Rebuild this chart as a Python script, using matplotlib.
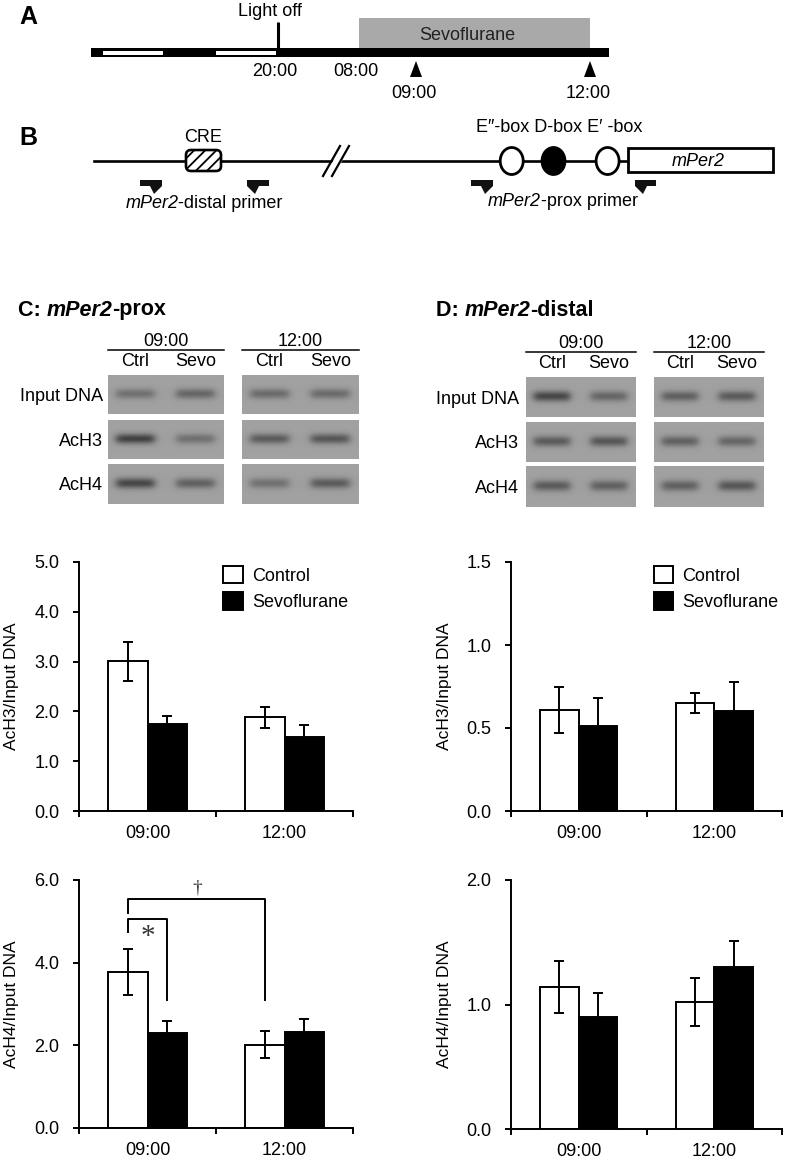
import matplotlib
matplotlib.use('Agg')
import matplotlib.pyplot as plt
from matplotlib.patches import Rectangle, Polygon, Ellipse, FancyBboxPatch
import numpy as np

plt.rcParams['font.family'] = ['Liberation Sans', 'DejaVu Sans']
plt.rcParams['font.size'] = 13
plt.rcParams['hatch.linewidth'] = 1.3

# ---- data ----
times = ['09:00', '12:00']
groups = ['Control', 'Sevoflurane']

# C: mPer2-prox
c_ach3_ctrl = [3.01, 1.88]
c_ach3_ctrl_err = [0.39, 0.21]
c_ach3_sevo = [1.75, 1.48]
c_ach3_sevo_err = [0.15, 0.25]
c_ach4_ctrl = [3.77, 2.02]
c_ach4_ctrl_err = [0.55, 0.33]
c_ach4_sevo = [2.31, 2.32]
c_ach4_sevo_err = [0.28, 0.32]

# D: mPer2-distal
d_ach3_ctrl = [0.61, 0.65]
d_ach3_ctrl_err = [0.14, 0.06]
d_ach3_sevo = [0.51, 0.60]
d_ach3_sevo_err = [0.17, 0.18]
d_ach4_ctrl = [1.14, 1.02]
d_ach4_ctrl_err = [0.21, 0.19]
d_ach4_sevo = [0.90, 1.30]
d_ach4_sevo_err = [0.19, 0.21]

# gel band darkness (0..1), rows Input DNA / AcH3 / AcH4, lanes Ctrl, Sevo
gel_rows = ['Input DNA', 'AcH3', 'AcH4']
lanes = ['Ctrl', 'Sevo']
c_gel_0900 = [[0.45, 0.55], [0.9, 0.45], [0.85, 0.6]]
c_gel_1200 = [[0.5, 0.5], [0.65, 0.7], [0.45, 0.65]]
d_gel_0900 = [[0.85, 0.55], [0.65, 0.7], [0.65, 0.6]]
d_gel_1200 = [[0.6, 0.65], [0.6, 0.55], [0.6, 0.7]]

W, H = 789, 1161
fig = plt.figure(figsize=(W / 100, H / 100), dpi=100)
ax0 = fig.add_axes([0, 0, 1, 1])
ax0.set_xlim(0, W)
ax0.set_ylim(H, 0)
ax0.axis('off')
R = fig.canvas.get_renderer()


def rich(x, y, pieces, ha='left', size=13, weight='normal'):
    # text made of pieces with different styles, laid side by side
    ts = []
    cx = x
    for s, style in pieces:
        t = ax0.text(cx, y, s, ha='left', va='center', fontsize=size,
                     fontweight=weight, fontstyle=style, zorder=5)
        cx += t.get_window_extent(R).width
        ts.append(t)
    if ha == 'center':
        shift = (cx - x) / 2
        for t in ts:
            t.set_x(t.get_position()[0] - shift)


# ---------------- A ----------------
ax0.text(28, 17.5, 'A', fontsize=18, fontweight='bold', ha='center', va='center')
ax0.add_patch(Rectangle((359, 18), 590 - 359, 31, color='#a9a9a9', lw=0))
ax0.add_patch(Rectangle((91, 48), 609 - 91, 9, color='black', lw=0))
for a, b in [(103, 163), (216, 276)]:
    ax0.add_patch(Rectangle((a, 51), b - a, 3.5, color='white', lw=0))
ax0.plot([278, 278], [22, 49], color='black', lw=2.2, solid_capstyle='butt')
ax0.text(270, 12, 'Light off', ha='center', va='center')
ax0.text(467, 36, 'Sevoflurane', ha='center', va='center', color='#222222')
ax0.text(275, 72, '20:00', ha='center', va='center')
ax0.text(356, 72, '08:00', ha='center', va='center')
for xa, lab in [(416, '09:00'), (590, '12:00')]:
    ax0.add_patch(Polygon([(xa - 6, 77), (xa + 6, 77), (xa, 61)], color='black', lw=0))
    ax0.text(xa - 2, 93, lab, ha='center', va='center')

# ---------------- B ----------------
ax0.text(28, 138, 'B', fontsize=18, fontweight='bold', ha='center', va='center')
ax0.plot([94, 628], [161, 161], color='black', lw=1.9, zorder=2)
ax0.add_patch(Polygon([(325, 176), (334, 176), (350, 146), (341, 146)], color='white', lw=0, zorder=3))
ax0.plot([323, 340], [176, 146], color='black', lw=1.6, zorder=4)
ax0.plot([332, 349], [176, 146], color='black', lw=1.6, zorder=4)
ax0.add_patch(FancyBboxPatch((186, 150), 35, 21, boxstyle='round,pad=0,rounding_size=5',
                             facecolor='white', edgecolor='black', lw=1.9, hatch='///', zorder=3))
ax0.text(203, 137, 'CRE', ha='center', va='center')
for cx, fc in [(511.7, 'white'), (553.5, 'black'), (607.6, 'white')]:
    ax0.add_patch(Ellipse((cx, 161), 23, 27, facecolor=fc, edgecolor='black', lw=2, zorder=3))
ax0.text(559, 128, 'E\u2033-box D-box E\u2032 -box', ha='center', va='center')
ax0.add_patch(Rectangle((628, 148), 145, 24, facecolor='white', edgecolor='black', lw=2, zorder=3))
rich(698, 161, [('mPer2', 'italic')], ha='center')


def primer(x0, x1, forward):
    y0, y1, y2 = 180, 186, 194
    if forward:
        pts = [(x0, y0), (x1, y0), (x1, y1), (x1 - 8, y2), (x1 - 12, y1), (x0, y1)]
    else:
        pts = [(x0, y0), (x1, y0), (x1, y1), (x0 + 12, y1), (x0 + 8, y2), (x0, y1)]
    ax0.add_patch(Polygon(pts, color='#111111', lw=0))


primer(140, 162, True)
primer(247, 269, False)
primer(471, 493, True)
primer(635, 656, False)
rich(204, 203, [('mPer2', 'italic'), ('-distal primer', 'normal')], ha='center')
rich(563, 202, [('mPer2', 'italic'), ('-prox primer', 'normal')], ha='center')


# ---------------- gels ----------------
def gel_box(x0, x1, y0, y1, bands, bg=0.63):
    ny, nx = int(y1 - y0) * 2, int(x1 - x0) * 2
    yy = np.linspace(0, 1, ny)[:, None]
    xx = np.linspace(0, 1, nx)[None, :]
    img = np.full((ny, nx), bg)
    for cx, dark in zip((0.235, 0.755), bands):
        px = 1 / (1 + np.exp(-(xx - (cx - 0.165)) / 0.02)) / (1 + np.exp((xx - (cx + 0.165)) / 0.02))
        py = np.exp(-((yy - 0.48) / 0.13) ** 2)
        img = img - dark * 0.42 * px * py
    ax0.imshow(img, cmap='gray', vmin=0, vmax=1, extent=(x0, x1, y1, y0),
               aspect='auto', interpolation='bilinear', zorder=1)


def gel_panel(title, tx, boxes_x, rows_y, gels, label_x, head_y, line_y, lane_y):
    rich(tx, 310, [(title[0], 'normal'), (title[1], 'italic'), (title[2], 'normal')],
         size=15.5, weight='bold')
    for (x0, x1), gel, tl in zip(boxes_x, gels, times):
        ax0.text((x0 + x1) / 2, head_y, tl, ha='center', va='center')
        ax0.plot([x0, x1], [line_y, line_y], color='black', lw=1.1)
        for fx, ln in zip((0.235, 0.755), lanes):
            ax0.text(x0 + fx * (x1 - x0), lane_y, ln, ha='center', va='center')
        for (y0, y1), bands in zip(rows_y, gel):
            gel_box(x0, x1, y0, y1, bands)
    for (y0, y1), rl in zip(rows_y, gel_rows):
        ax0.text(label_x, (y0 + y1) / 2 + 2, rl, ha='right', va='center')


gel_panel(('C: ', 'mPer2', '-prox'), 18, [(108, 224), (242, 359)],
          [(375, 414), (420, 459), (464, 504)], [c_gel_0900, c_gel_1200], 103, 342, 350, 362)
gel_panel(('D: ', 'mPer2', '-distal'), 436, [(526, 636), (654, 764)],
          [(377, 417), (422, 462), (466, 507)], [d_gel_0900, d_gel_1200], 519, 343, 352, 364)
ax0.set_xlim(0, W)
ax0.set_ylim(H, 0)


# ---------------- bar charts ----------------
def bar_panel(l, t, r, b, ctrl, ctrl_err, sevo, sevo_err, yticks, ylabel, legend=False):
    ax = fig.add_axes([l / W, 1 - b / H, (r - l) / W, (b - t) / H])
    ax.patch.set_alpha(0)
    x = np.arange(len(times)) + 0.5
    w = 0.285
    ax.bar(x - w / 2, ctrl, w, color='white', edgecolor='black', lw=1.4, label=groups[0])
    ax.bar(x + w / 2, sevo, w, color='black', edgecolor='black', lw=1.4, label=groups[1])
    ax.errorbar(x - w / 2, ctrl, yerr=ctrl_err, fmt='none', ecolor='black',
                elinewidth=1.4, capsize=3.6, capthick=1.4, zorder=3)
    ax.errorbar(x + w / 2, sevo, yerr=sevo_err, fmt='none', ecolor='black',
                elinewidth=1.4, capsize=3.6, capthick=1.4, zorder=3)
    ax.set_xlim(0, 2)
    ax.set_ylim(0, yticks[-1])
    ax.set_xticks([0, 1, 2])
    ax.set_xticklabels([])
    ax.set_xticks(x, minor=True)
    ax.set_xticklabels(times, minor=True)
    ax.tick_params(axis='x', which='major', length=4.3, width=1.4, direction='out')
    ax.tick_params(axis='x', which='minor', length=0, pad=10)
    ax.set_yticks(yticks)
    ax.set_yticklabels([f'{v:.1f}' for v in yticks])
    ax.tick_params(axis='y', length=4.3, width=1.4, pad=10)
    for s in ['top', 'right']:
        ax.spines[s].set_visible(False)
    for s in ['left', 'bottom']:
        ax.spines[s].set_linewidth(1.4)
    ax.set_ylabel(ylabel, fontsize=12.5)
    ax.yaxis.set_label_coords((19 - 79) / 274, 0.5)
    if legend:
        ax.legend(loc='upper left', bbox_to_anchor=(0.526, 0.984), frameon=False,
                  handlelength=1.1, handleheight=1.1, labelspacing=0.42,
                  handletextpad=0.5, borderpad=0, borderaxespad=0)
    return ax, x - w / 2, x + w / 2


bar_panel(79, 562, 353, 811, c_ach3_ctrl, c_ach3_ctrl_err, c_ach3_sevo, c_ach3_sevo_err,
          [0, 1, 2, 3, 4, 5], 'AcH3/Input DNA', legend=True)
axc4, xc, xs = bar_panel(79, 880, 353, 1128, c_ach4_ctrl, c_ach4_ctrl_err, c_ach4_sevo, c_ach4_sevo_err,
                         [0, 2, 4, 6], 'AcH4/Input DNA')
bar_panel(511, 562, 782, 811, d_ach3_ctrl, d_ach3_ctrl_err, d_ach3_sevo, d_ach3_sevo_err,
          [0, 0.5, 1.0, 1.5], 'AcH3/Input DNA', legend=True)
bar_panel(511, 880, 782, 1129, d_ach4_ctrl, d_ach4_ctrl_err, d_ach4_sevo, d_ach4_sevo_err,
          [0, 1, 2], 'AcH4/Input DNA')

# significance brackets in C AcH4
axc4.plot([xc[0], xc[0], xs[0], xs[0]], [4.74, 5.06, 5.06, 3.1], color='black', lw=1.4)
axc4.plot([xc[0], xc[0], xc[1], xc[1]], [5.2, 5.54, 5.54, 3.1], color='black', lw=1.4)
axc4.text(0.5, 4.62, '*', family='Liberation Serif', fontsize=21, ha='center', va='center', color='#333333')
axc4.text(0.861, 5.8, '\u2020', family='Liberation Serif', fontsize=14, ha='center', va='center', color='#333333')

fig.savefig('out.png', dpi=100)
